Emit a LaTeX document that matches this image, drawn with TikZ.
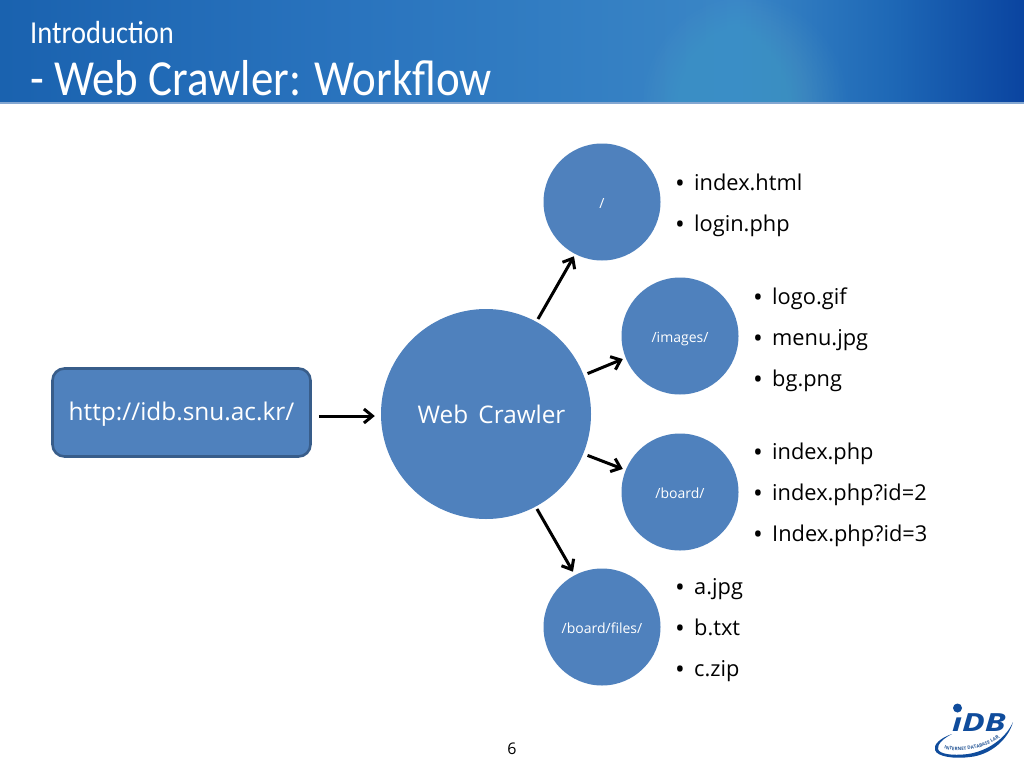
\documentclass[tikz,border=0pt]{standalone}
\usepackage{graphicx}
\usepackage{fontspec}
\setmainfont{Open Sans}
\newfontfamily\titlefont[FakeStretch=0.89]{Carlito}
\usetikzlibrary{arrows.meta,decorations.text}
\definecolor{nodeblue}{HTML}{4F81BD}
\definecolor{edgeblue}{HTML}{385D8A}
\definecolor{logoblue}{HTML}{0F4C9C}
\definecolor{bandA}{HTML}{1A62AF}
\definecolor{bandC}{HTML}{2A74BE}
\definecolor{bandD}{HTML}{3A86C6}
\definecolor{bandE}{HTML}{1E68B6}
\definecolor{bandF}{HTML}{0A44A0}
\definecolor{glowblue}{HTML}{6CC0E4}
\pgfdeclarehorizontalshading{bandshade}{100bp}{
  color(0bp)=(bandA);
  color(25bp)=(bandA);
  color(42.6bp)=(bandC);
  color(61bp)=(bandD);
  color(68.5bp)=(bandE);
  color(75bp)=(bandF);
  color(100bp)=(bandF)}
\tikzset{
  hub/.style={circle,fill=nodeblue,inner sep=0pt,text=white,minimum size=#1,font=\fontsize{14}{16}\selectfont,text height=14pt,text depth=2pt},
  bighub/.style={circle,fill=nodeblue,inner sep=0pt,text=white,minimum size=#1,font=\fontsize{24.3}{28}\selectfont},
  conn/.style={draw=black,line width=3pt,-{Straight Barb[length=8.5pt,width=14pt,line width=3pt]}},
  leaf/.style={anchor=west,inner sep=0pt,align=left,font=\fontsize{21.8}{41}\selectfont},
}
\newcommand{\bul}{\makebox[19pt][l]{\raisebox{-2pt}{\fontsize{26}{26}\selectfont\textbullet}}}
\begin{document}
\begin{tikzpicture}[x=1pt,y=-1pt]
\useasboundingbox (0,0) rectangle (1024,768);
\fill[white] (0,0) rectangle (1024,768);
\shade[shading=bandshade] (0,0) rectangle (1024,102);
\begin{scope}
\clip (0,0) rectangle (1024,102);
\foreach \r in {1,...,30} {
  \fill[glowblue,opacity=0.018] (745,106) ellipse ({3.4*\r pt} and {3.6*\r pt});
}
\end{scope}
\fill[nodeblue!70!white] (0,102) rectangle (1024,104);
\node[anchor=west,text=white,inner sep=0pt,font=\titlefont\fontsize{32}{36}\selectfont] (t1) at (30,33) {Introduction};
\node[anchor=west,text=white,inner sep=0pt,font=\titlefont\fontsize{50.5}{54}\selectfont] (t2) at (30,78) {- Web Crawler: Workflow};

\node[draw=edgeblue,line width=2.6pt,fill=nodeblue,rounded corners=12pt,minimum width=258pt,minimum height=88pt,inner sep=0pt,text=white,font=\fontsize{24.4}{28}\selectfont,text height=20pt,text depth=4pt] (url) at (181.5,412.5) {http://idb.snu.ac.kr/};
\node[bighub=210pt] (wc) at (486,414) {\hspace{11pt}Web\hspace{4pt} Crawler};
\node[hub=117pt] (root) at (602,202) {/};
\node[hub=117pt] (images) at (680,336) {/images/};
\node[hub=117pt] (board) at (680,492) {/board/};
\node[hub=117pt] (files) at (602,627) {/board/files/};

\draw[conn] ([xshift=7pt,yshift=-3.5pt]url.east) -- ([xshift=-6pt,yshift=-2pt]wc.west);
\draw[conn] ([shift={(1pt,3pt)}]wc.61) -- ([shift={(-1.4pt,-2pt)}]root.243);
\draw[conn] ([shift={(4pt,1pt)}]wc.22) -- ([shift={(-2.4pt,-2pt)}]images.201);
\draw[conn] ([shift={(4pt,-2pt)}]wc.-22) -- ([shift={(-2.4pt,2pt)}]board.159);
\draw[conn] ([shift={(0pt,-3pt)}]wc.-61) -- ([shift={(-2.4pt,3pt)}]files.117);

\node[leaf] (l1) at (675,205) {\bul index.html\\\bul login.php};
\node[leaf] (l2) at (753,339.5) {\bul logo.gif\\\bul menu.jpg\\\bul bg.png};
\node[leaf] (l3) at (753,495) {\bul index.php\\\bul index.php?id=2\\\bul Index.php?id=3};
\node[leaf] (l4) at (675,630) {\bul a.jpg\\\bul b.txt\\\bul c.zip};
\node[inner sep=0pt,font=\fontsize{16}{18}\selectfont] (pg) at (512,749) {6};

% logo
\fill[logoblue] (952,734) .. controls (940,738) and (933,745) .. (935,750)
  .. controls (937,757) and (955,759) .. (970,757)
  .. controls (990,755) and (1008,740) .. (1013,722)
  .. controls (1006,738) and (988,751) .. (968,754)
  .. controls (952,756) and (939,754) .. (938,749)
  .. controls (937,744) and (944,738) .. (952,734) -- cycle;
\fill[logoblue] (957.5,708) circle (4.5pt);
\node[inner sep=0pt,text=logoblue,font=\fontsize{25}{25}\bfseries\itshape\selectfont,text height=18pt,text depth=0pt] (logo) at (979,722) {\scalebox{1.35}[1]{{\i}DB}};
\path[decorate,decoration={text along path,text align=center,text={|\fontsize{4.6}{6}\bfseries\color{logoblue!80!gray}|INTERNET DATABASE LAB.}}]
  (942,748) .. controls (960,754) and (985,749) .. (1002,736);
\end{tikzpicture}
\end{document}
